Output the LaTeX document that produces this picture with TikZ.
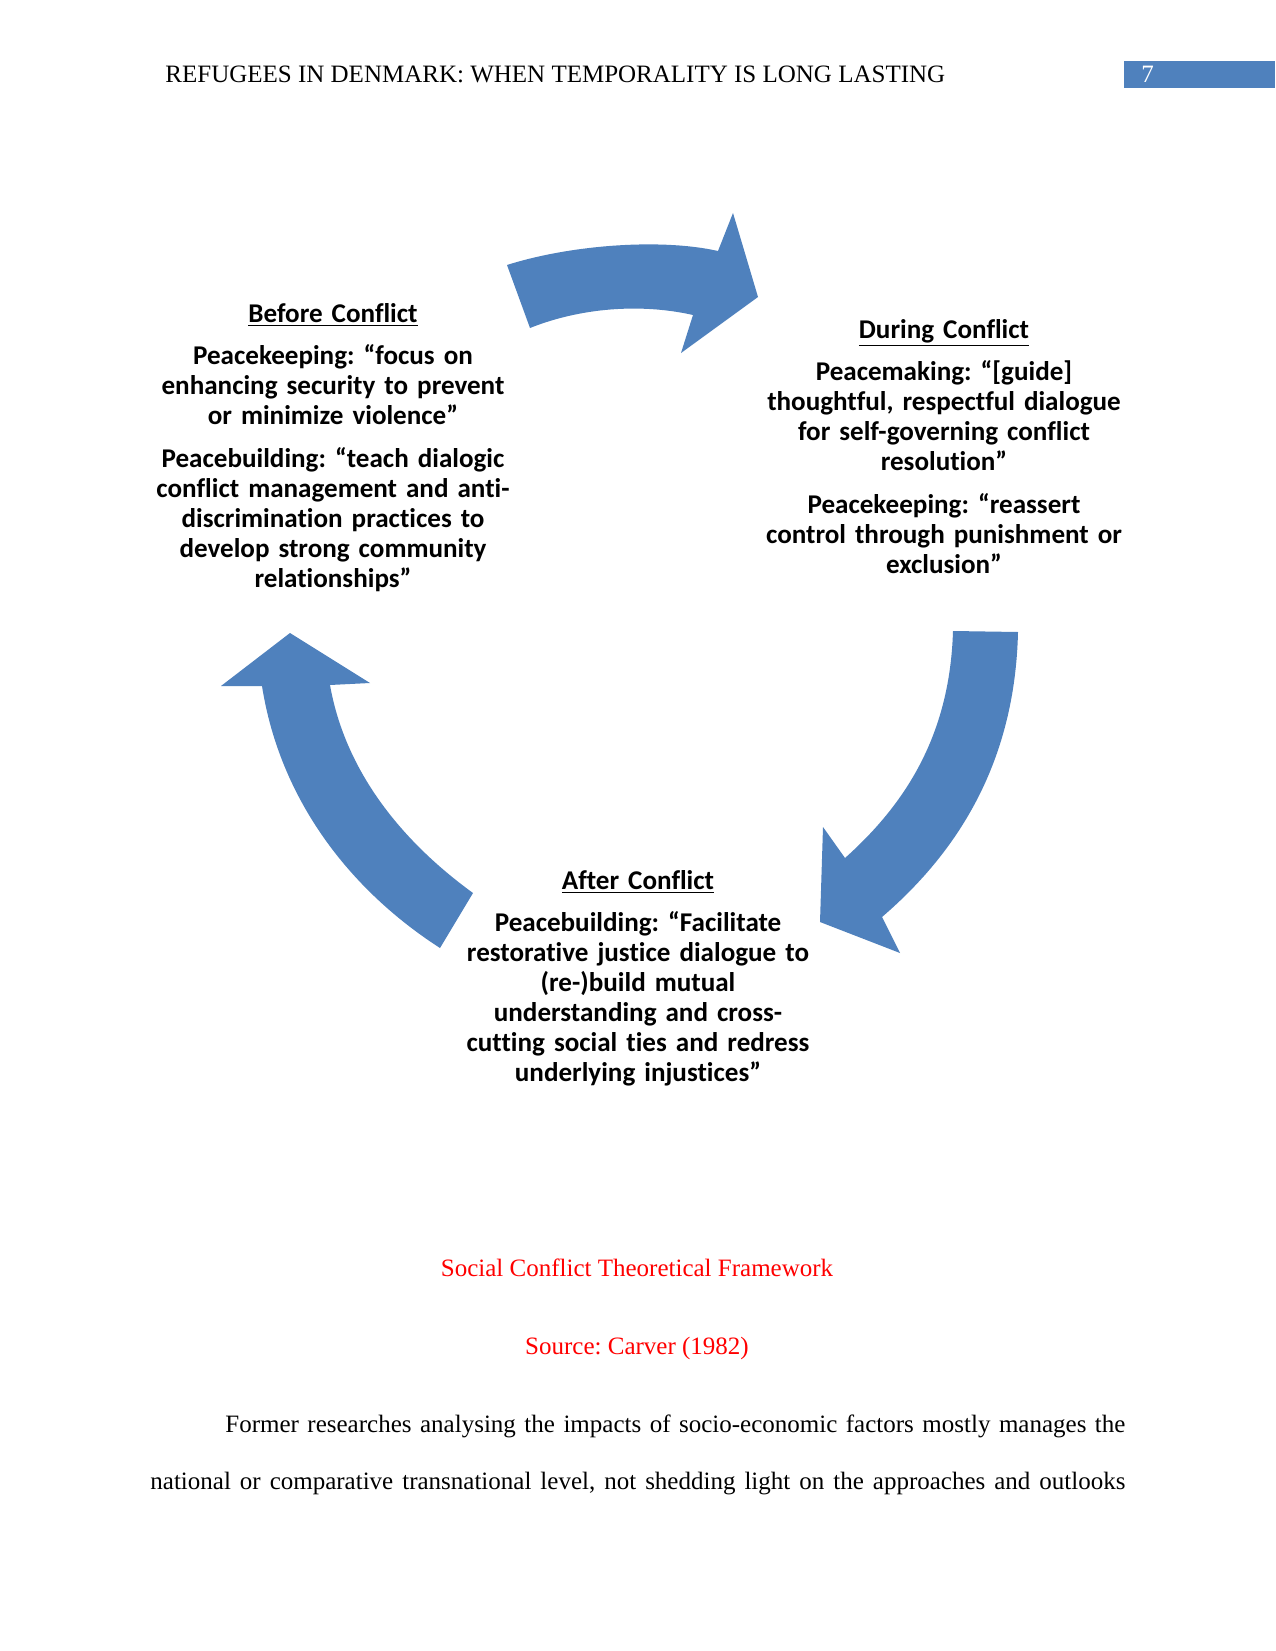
\documentclass[tikz,border=0pt]{standalone}
\usepackage{fontspec}
\setmainfont{Liberation Serif}
\newfontfamily\calibfont[Ligatures=NoCommon]{Carlito}
\usetikzlibrary{positioning}
\definecolor{accentblue}{HTML}{4F81BD}
\frenchspacing

\begin{document}
\begin{tikzpicture}[
    x=0.48pt, y=-0.48pt,
    phase/.style={align=center, text width=200pt, inner sep=0pt, anchor=base, font=\calibfont\bfseries\fontsize{13}{14.4}\selectfont},
    cyc/.style={fill=accentblue, draw=none},
    serif/.style={inner sep=0pt, font=\fontsize{12}{13.8}\selectfont},
    capt/.style={serif, anchor=base, text=red}
]
    \path[fill=white, use as bounding box] (0,0) rectangle (1275,1651);

    % running head
    \node[serif, anchor=base west] (runhead) at (165,83) {REFUGEES IN DENMARK: WHEN TEMPORALITY IS LONG LASTING};
    \fill[accentblue] (1124,61) rectangle (1275,88);
    \node[serif, anchor=base west, text=white] (pageno) at (1141,83) {7};

    % cycle arrows
    \fill[cyc] (507,265) .. controls (570,245) and (660,238) .. (718,251) -- (733,213) -- (758,297) -- (681,353) -- (693,315) .. controls (640,303) and (580,308) .. (530,328) -- cycle;
    \fill[cyc] (953,631) -- (1018,632) .. controls (1015,760) and (960,850) .. (882,917) -- (900,953) -- (820,922) -- (823,827) -- (845,858) .. controls (910,800) and (950,730) .. (953,631) -- cycle;
    \fill[cyc] (473,893) .. controls (400,840) and (345,770) .. (330,685) -- (370,683) -- (290,633) -- (221,686) -- (262,686) .. controls (280,800) and (350,890) .. (440,948) -- cycle;

    % phases
    \node[phase] (before) at (333,322) {\underline{Before Conflict}\\[6pt]
        Peacekeeping: “focus on\\ enhancing security to prevent\\ or minimize violence”\\[6pt]
        Peacebuilding: “teach dialogic\\ conflict management and anti-\\ discrimination practices to\\ develop strong community\\ relationships”};
    \node[phase] (during) at (944,338) {\underline{During Conflict}\\[6pt]
        Peacemaking: “[guide]\\ thoughtful, respectful dialogue\\ for self-governing conflict\\ resolution”\\[6pt]
        Peacekeeping: “reassert\\ control through punishment or\\ exclusion”};
    \node[phase] (after) at (638,889) {\underline{After Conflict}\\[6pt]
        Peacebuilding: “Facilitate\\ restorative justice dialogue to\\ (re-)build mutual\\ understanding and cross-\\ cutting social ties and redress\\ underlying injustices”};

    % caption and text
    \node[capt] (figtitle) at (637,1276) {Social Conflict Theoretical Framework};
    \node[capt] (figsource) at (637,1354) {Source: Carver (1982)};
    \node[serif, anchor=base west, text width=468pt, align=justify, font=\fontsize{12}{27.6}\selectfont] (para) at (150,1432) {\spaceskip=2.8pt plus 3pt minus 1.6pt\relax
        \hspace*{36pt}Former researches analysing the impacts of socio-economic factors mostly manages the\linebreak
        \makebox[\hsize][s]{national or comparative transnational level, not shedding light on the approaches and outlooks}};
\end{tikzpicture}
\end{document}
